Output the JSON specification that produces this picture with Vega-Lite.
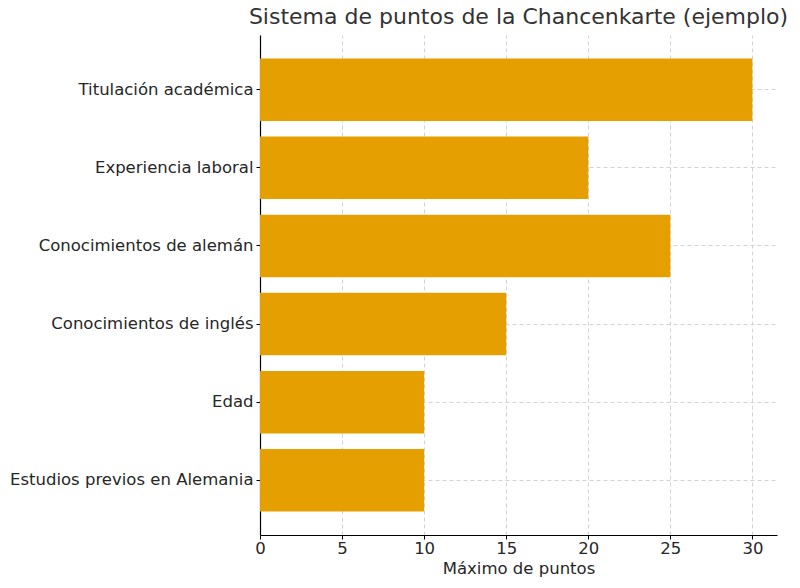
{
  "$schema": "https://vega.github.io/schema/vega-lite/v6.json",
  "autosize": "none",
  "width": 517,
  "height": 500,
  "padding": {"left": 260, "top": 35, "right": 23, "bottom": 53},
  "background": "white",
  "title": {
    "text": "Sistema de puntos de la Chancenkarte (ejemplo)",
    "font": "DejaVu Sans",
    "fontSize": 22,
    "fontWeight": "normal",
    "color": "#333333",
    "anchor": "middle",
    "offset": 6
  },
  "data": {
    "values": [
      {"criterio": "Titulación académica", "puntos": 30},
      {"criterio": "Experiencia laboral", "puntos": 20},
      {"criterio": "Conocimientos de alemán", "puntos": 25},
      {"criterio": "Conocimientos de inglés", "puntos": 15},
      {"criterio": "Edad", "puntos": 10},
      {"criterio": "Estudios previos en Alemania", "puntos": 10}
    ]
  },
  "mark": {"type": "bar", "color": "#E69F00"},
  "encoding": {
    "y": {
      "field": "criterio",
      "type": "nominal",
      "sort": null,
      "title": null,
      "scale": {"paddingInner": 0.2, "paddingOuter": 0.3},
      "axis": {
        "bandPosition": 0.5,
        "grid": true,
        "gridDash": [4, 3],
        "gridColor": "#d3d3d3",
        "domainColor": "#000000",
        "tickColor": "#000000",
        "tickSize": 4,
        "labelPadding": 3,
        "labelLimit": 0
      }
    },
    "x": {
      "field": "puntos",
      "type": "quantitative",
      "title": "Máximo de puntos",
      "scale": {"domain": [0, 31.5], "nice": false},
      "axis": {
        "values": [0, 5, 10, 15, 20, 25, 30],
        "labelFlush": false,
        "grid": true,
        "gridDash": [4, 3],
        "gridColor": "#d3d3d3",
        "domainColor": "#000000",
        "tickColor": "#000000",
        "tickSize": 4,
        "labelPadding": 1,
        "titlePadding": 4
      }
    }
  },
  "config": {
    "view": {"stroke": null},
    "axis": {
      "labelFont": "DejaVu Sans",
      "labelFontSize": 16.5,
      "labelColor": "#262626",
      "titleFont": "DejaVu Sans",
      "titleFontSize": 16.5,
      "titleFontWeight": "normal",
      "titleColor": "#262626",
      "domainWidth": 1.2
    }
  }
}
